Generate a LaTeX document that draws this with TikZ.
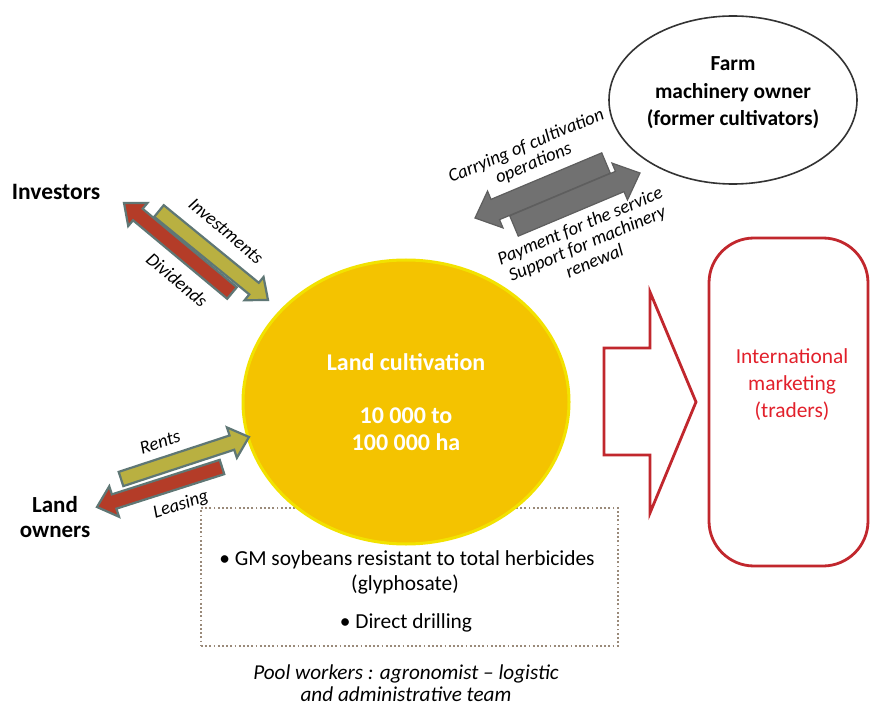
\documentclass[tikz,border=0pt]{standalone}
\usepackage{fontspec}
\setmainfont{Carlito}
\usetikzlibrary{calc,shapes.geometric}
\definecolor{circfill}{HTML}{F4C300}
\definecolor{circedge}{HTML}{F2E200}
\definecolor{brick}{HTML}{B43C28}
\definecolor{olivearr}{HTML}{B9B041}
\definecolor{arredge}{HTML}{5F7775}
\definecolor{greyarr}{HTML}{717171}
\definecolor{greyedge}{HTML}{5E5E5E}
\definecolor{mred}{HTML}{C1272D}
\definecolor{mtext}{HTML}{E2202B}
\definecolor{dotc}{HTML}{9A8A7A}
\newcommand\blockarrow[6]{%
  \coordinate (ba-h) at ($(#2)!#5!(#1)$);
  \draw[#6] ($(#1)!#3!90:(#2)$) -- ($(ba-h)!#3!90:(#2)$) -- ($(ba-h)!#4!90:(#2)$)
    -- (#2) -- ($(ba-h)!#4!-90:(#2)$) -- ($(ba-h)!#3!-90:(#2)$) -- ($(#1)!#3!-90:(#2)$) -- cycle;}
\begin{document}
\begin{tikzpicture}[x=1pt,y=-1pt,
  lbl/.style={font=\fontsize{18.6}{19}\selectfont\itshape, inner sep=0, align=center},
  actor/.style={font=\fontsize{23.5}{25}\selectfont\bfseries, inner sep=0, align=center},
  body/.style={font=\fontsize{21.4}{27}\selectfont, inner sep=0, align=center},
  redarr/.style={fill=brick, draw=arredge, line width=2.2, line join=miter},
  olivearrow/.style={fill=olivearr, draw=arredge, line width=2.2, line join=miter},
  greyarrow/.style={fill=greyarr, draw=greyedge, line width=1.2, line join=miter}]
\fill[white] (0,0) rectangle (870,711);
\useasboundingbox (0,0) rectangle (870,711);

% dotted box (behind the circle)
\node[draw=dotc, line width=1.8, dash pattern=on 1.8pt off 2.4pt, minimum width=417, minimum height=138, inner sep=0] (box) at (409.5,577) {};
\node[body] (gm) at (407,560) {• GM soybeans resistant to total herbicides};
\node[body] (gly) at (405,585) {(glyphosate)};
\node[body] (dd) at (406,623) {• Direct drilling};

% land cultivation
\node[ellipse, fill=circfill, draw=circedge, line width=3, minimum width=326, minimum height=284,
  inner sep=0, text=white, font=\fontsize{24}{26.5}\selectfont\bfseries, align=center] (land) at (406,402)
  {Land cultivation\\\mbox{}\\10 000 to\\100 000 ha};

% farm machinery owner
\node[ellipse, draw=black!80, line width=1.6, minimum width=248, minimum height=168, inner sep=0] (farm) at (733,100) {};
\node[actor, font=\fontsize{21.4}{27.5}\selectfont\bfseries] (farmtxt) at ($(farm.center)+(0,-7)$) {Farm\\machinery owner\\(former cultivators)};

% international marketing
\node[draw=mred, line width=2.8, rounded corners=45, minimum width=159, minimum height=328, inner sep=0] (mkt) at (788.5,402) {};
\node[body, text=mtext] (mkttxt) at (792,385) {International\\marketing\\(traders)};

% big red block arrow
\coordinate (ra1) at (604,348); \coordinate (ra2) at (650,348); \coordinate (ra3) at (650,292);
\coordinate (ra4) at (696,402); \coordinate (ra5) at (650,513); \coordinate (ra6) at (650,455);
\coordinate (ra7) at (604,455);
\draw[mred, line width=2.8, fill=white, line join=miter] (ra1) -- (ra2) -- (ra3) -- (ra4) -- (ra5) -- (ra6) -- (ra7) -- cycle;

% actors
\node[actor] (inv) at (56,192) {Investors};
\node[actor, font=\fontsize{23}{25}\selectfont\bfseries] (lo) at (55,517) {Land\\owners};

% investors arrows
\coordinate (divA) at (232,293); \coordinate (divB) at (124,203);
\coordinate (invA) at (159,211); \coordinate (invB) at (268,300);
\blockarrow{divA}{divB}{7.5pt}{15pt}{18pt}{redarr}
\blockarrow{invA}{invB}{7.5pt}{15pt}{18pt}{olivearrow}

% land owners arrows
\coordinate (leaseA) at (222,467); \coordinate (leaseB) at (97,507);
\coordinate (rentA) at (121,479); \coordinate (rentB) at (249,437);
\blockarrow{leaseA}{leaseB}{7.5pt}{16pt}{18pt}{redarr}
\blockarrow{rentA}{rentB}{7.5pt}{16pt}{18pt}{olivearrow}

% machinery arrows
\coordinate (carA) at (606,163); \coordinate (carB) at (475,218);
\coordinate (payA) at (514,226); \coordinate (payB) at (640,173);
\blockarrow{carA}{carB}{11pt}{20pt}{22pt}{greyarrow}
\blockarrow{payA}{payB}{11pt}{20pt}{22pt}{greyarrow}

% labels
\node[lbl, rotate=-40] (linv) at (226,231) {Investments};
\node[lbl, rotate=-40] (ldiv) at (177,280) {Dividends};
\node[lbl, rotate=18] (lrent) at (160,442) {Rents};
\node[lbl, rotate=18] (llease) at (181,505) {Leasing};
\node[lbl, rotate=22.7] (lcar) at (530,155) {Carrying of cultivation\\operations};
\node[lbl, rotate=22.7] (lpay) at (587,243) {Payment for the service\\Support for machinery\\renewal};

% pool workers
\node[lbl, font=\fontsize{21.2}{22}\selectfont\itshape] (pool) at (406,683) {Pool workers : agronomist – logistic\\and administrative team};
\end{tikzpicture}
\end{document}
